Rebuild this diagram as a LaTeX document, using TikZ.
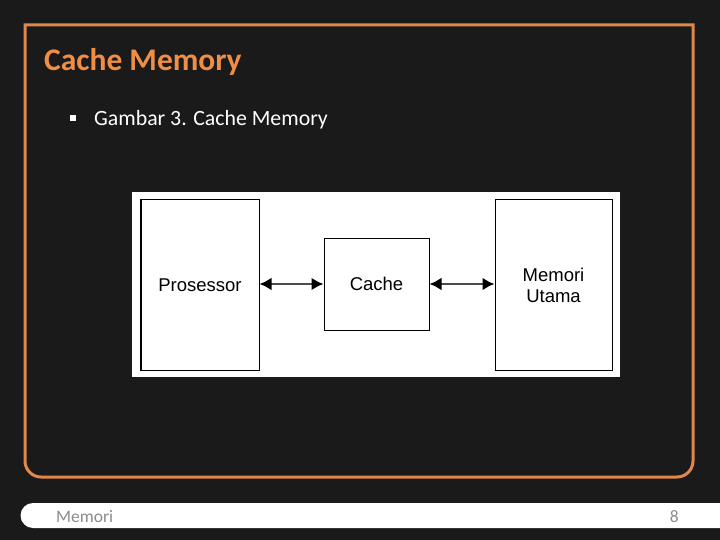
\documentclass[tikz,border=0pt]{standalone}
\usepackage{fontspec}
\setmainfont{Carlito}
\newfontfamily\arialf{Liberation Sans}
\usetikzlibrary{arrows.meta}
\definecolor{bgc}{HTML}{1A1A1A}
\definecolor{orng}{HTML}{E0884A}
\definecolor{ttl}{HTML}{F08E45}
\definecolor{ftxt}{HTML}{8C8C8C}
\tikzset{
  blk/.style={draw=black, line width=1pt, fill=white, inner sep=0pt, font=\arialf\fontsize{18.5}{21}\selectfont, align=center},
  conn/.style={draw=black!70, line width=2.5pt, {Latex[length=12pt,width=13pt,color=black]}-{Latex[length=12pt,width=13pt,color=black]}}
}
\begin{document}
\begin{tikzpicture}[x=1pt,y=-1pt]
\fill[bgc] (0,0) rectangle (720,540);
\useasboundingbox (0,0) rectangle (720,540);
% frame
\draw[orng, line width=3pt] (25,250) -- (25,25) -- (693,25) [rounded corners=16pt] -- (693,477) -- (25,477) -- cycle;
% title
\node[anchor=base west, inner sep=0pt, text=ttl, font=\bfseries\fontsize{31.5}{34}\selectfont] (title) at (44,71) {Cache Memory};
\node[fill=white, minimum size=6pt, inner sep=0pt] (bul) at (73,118) {};
\node[anchor=base west, inner sep=0pt, text=white, font=\fontsize{21.8}{26}\selectfont] (sub) at (94,126) {Gambar 3. Cache Memory};
% figure
\fill[white] (132,192) rectangle (620,377);
\node[blk, minimum width=118pt, minimum height=170pt] (proc) at (200,285) {Prosessor};
\draw[black, line width=1.5pt] (proc.south west) -- (proc.north west);
\node[blk, minimum width=105pt, minimum height=92pt] (cache) at (376.5,284) {Cache};
\node[blk, minimum width=117pt, minimum height=170pt] (mem) at (553.5,285) {Memori\\Utama};
\draw[conn] (proc.east |- cache.east) -- (cache.west);
\draw[conn] (cache.east) -- (mem.west |- cache.east);
% footer
\fill[white] (720,503) -- (33,503) arc[start angle=90, end angle=270, radius=12.5pt] -- (720,528) -- cycle;
\node[anchor=base west, inner sep=0pt, text=ftxt, font=\fontsize{17.5}{20}\selectfont] (ftl) at (56,522) {Memori};
\node[anchor=base east, inner sep=0pt, text=ftxt, font=\fontsize{17.5}{20}\selectfont] (ftr) at (679,522) {8};
\end{tikzpicture}
\end{document}
